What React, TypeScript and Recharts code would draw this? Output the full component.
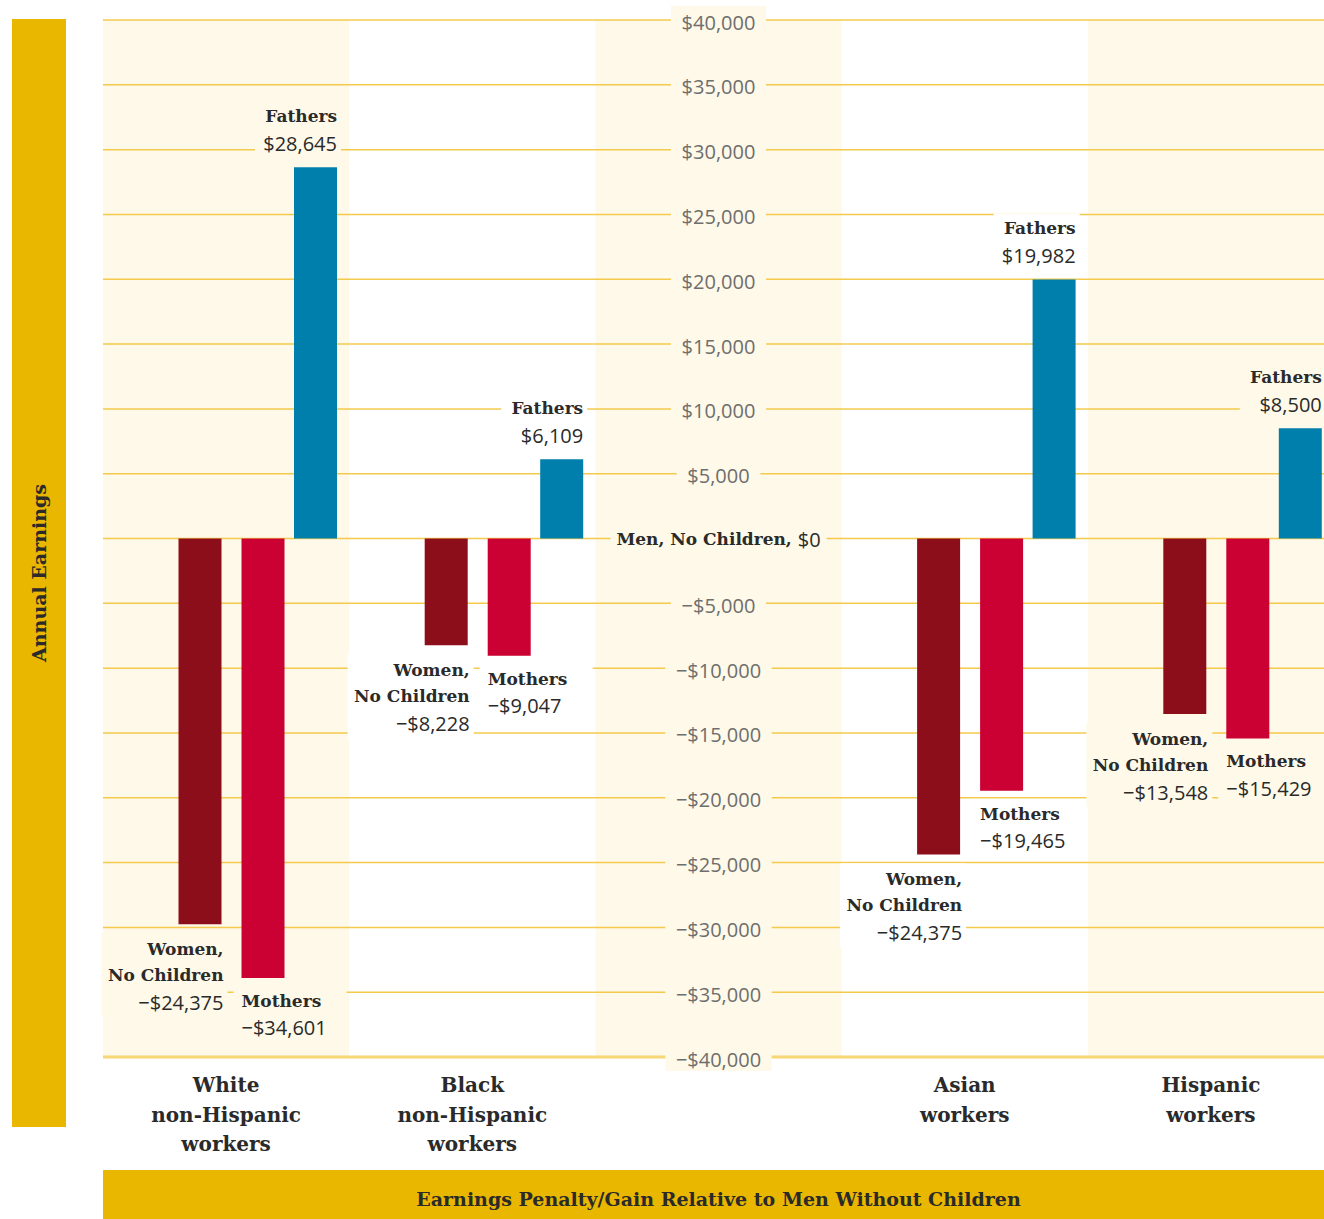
import React from 'react';
import { BarChart, Bar, XAxis, YAxis, CartesianGrid, ReferenceArea, LabelList } from 'recharts';

const categories = ['White\nnon-Hispanic\nworkers', 'Black\nnon-Hispanic\nworkers', ' ', 'Asian\nworkers', 'Hispanic\nworkers'];
const womenNoChildren = [-29750, -8228, null, -24375, -13548];
const mothers = [-33900, -9047, null, -19465, -15429];
const fathers = [28645, 6109, null, 19982, 8500];
const womenLabels = ['−$24,375', '−$8,228', '', '−$24,375', '−$13,548'];
const motherLabels = ['−$34,601', '−$9,047', '', '−$19,465', '−$15,429'];
const fatherLabels = ['$28,645', '$6,109', '', '$19,982', '$8,500'];
const yTicks = [40000, 35000, 30000, 25000, 20000, 15000, 10000, 5000, 0, -5000, -10000, -15000, -20000, -25000, -30000, -35000, -40000];
const shaded = [true, false, true, false, true];

const data = categories.map((c, i) => ({
  category: c,
  women: womenNoChildren[i],
  mothers: mothers[i],
  fathers: fathers[i],
}));

const W = 1340;
const H = 1219;
const M = { top: 20, right: 6, bottom: 12, left: 3 };
const Y_AXIS_W = 100;
const X_AXIS_H = 150;
const PLOT_LEFT = M.left + Y_AXIS_W;
const PLOT_W = W - PLOT_LEFT - M.right;
const PLOT_BOTTOM = H - M.bottom - X_AXIS_H;

const GOLD = '#e9b600';
const CREAM = '#fef9e8';
const GRID = '#f3ca4c';
const TEXT = '#2a2a2a';
const TICK = '#6e6e6e';
const SERIF = '"DejaVu Serif", serif';
const SANS = '"Open Sans", sans-serif';

const bandFill = (i: number) => (shaded[i] ? CREAM : '#ffffff');

const fmt = (v: number) => (v < 0 ? '−$' : '$') + Math.abs(v).toLocaleString('en-US');

// label index counts only drawn bars, so find the category from the value
const rowOf = (series: (number | null)[], v: any) => series.findIndex((s) => s === Number(v));

const box = (p: any) => {
  const vb = p.viewBox && p.viewBox.x != null ? p.viewBox : p;
  const x = Number(vb.x), y = Number(vb.y), w = Number(vb.width), h = Number(vb.height);
  return { left: x, right: x + w, top: Math.min(y, y + h), bottom: Math.max(y, y + h) };
};

const FatherLabel = (p: any) => {
  const i = rowOf(fathers, p.value);
  if (i < 0) return null;
  const b = box(p);
  return (
    <g>
      <rect x={b.right - 82} y={b.top - 66} width={86} height={58} fill={bandFill(i)} />
      <text x={b.right} y={b.top - 51} textAnchor="end" dominantBaseline="central" fontFamily={SERIF} fontWeight="bold" fontSize={17} fill={TEXT}>Fathers</text>
      <text x={b.right} y={b.top - 24} textAnchor="end" dominantBaseline="central" fontFamily={SANS} fontSize={20} fill={TEXT}>{fatherLabels[i]}</text>
    </g>
  );
};

const WomenLabel = (p: any) => {
  const i = rowOf(womenNoChildren, p.value);
  if (i < 0) return null;
  const b = box(p);
  const r = b.right + 2;
  return (
    <g>
      <rect x={r - 122} y={b.bottom + 9} width={126} height={84} fill={bandFill(i)} />
      <text x={r} y={b.bottom + 25} textAnchor="end" dominantBaseline="central" fontFamily={SERIF} fontWeight="bold" fontSize={17} fill={TEXT}>Women,</text>
      <text x={r} y={b.bottom + 51} textAnchor="end" dominantBaseline="central" fontFamily={SERIF} fontWeight="bold" fontSize={17} fill={TEXT}>No Children</text>
      <text x={r} y={b.bottom + 78} textAnchor="end" dominantBaseline="central" fontFamily={SANS} fontSize={20} fill={TEXT}>{womenLabels[i]}</text>
    </g>
  );
};

const MotherLabel = (p: any) => {
  const i = rowOf(mothers, p.value);
  if (i < 0) return null;
  const b = box(p);
  return (
    <g>
      <rect x={b.left - 8} y={b.bottom + 8} width={113} height={58} fill={bandFill(i)} />
      <text x={b.left} y={b.bottom + 23} textAnchor="start" dominantBaseline="central" fontFamily={SERIF} fontWeight="bold" fontSize={17} fill={TEXT}>Mothers</text>
      <text x={b.left} y={b.bottom + 50} textAnchor="start" dominantBaseline="central" fontFamily={SANS} fontSize={20} fill={TEXT}>{motherLabels[i]}</text>
    </g>
  );
};

const YTick = (p: any) => {
  const { y, payload } = p;
  const cx = PLOT_LEFT + PLOT_W / 2;
  if (payload.value === 0) {
    return (
      <g>
        <rect x={cx - 108} y={y - 15} width={216} height={30} fill={CREAM} />
        <text x={cx} y={y} textAnchor="middle" dominantBaseline="central" fill={TEXT}>
          <tspan fontFamily={SERIF} fontWeight="bold" fontSize={17}>Men, No Children, </tspan>
          <tspan fontFamily={SANS} fontSize={20}>$0</tspan>
        </text>
      </g>
    );
  }
  const label = fmt(payload.value);
  const w = label.length * 11.3 + 16;
  return (
    <g>
      <rect x={cx - w / 2} y={y - 14} width={w} height={28} fill={CREAM} />
      <text x={cx} y={y + 2} textAnchor="middle" dominantBaseline="central" fontFamily={SANS} fontSize={20} fill={TICK}>{label}</text>
    </g>
  );
};

const CategoryTick = (p: any) => {
  const { x, payload } = p;
  const lines = String(payload.value).split('\n').filter((s) => s.trim());
  return (
    <g>
      {lines.map((l, i) => (
        <text key={i} x={x} y={PLOT_BOTTOM + 28 + i * 29.5} textAnchor="middle" dominantBaseline="central" fontFamily={SERIF} fontWeight="bold" fontSize={20} fill={TEXT}>
          {l}
        </text>
      ))}
    </g>
  );
};

export default function App() {
  return (
    <div style={{ position: 'fixed', left: 0, top: 0, width: 1324, height: 1219, overflow: 'hidden', background: '#fff' }}>
      <div style={{ position: 'absolute', left: 12, top: 19, width: 54, height: 1108, background: GOLD, display: 'flex', alignItems: 'center', justifyContent: 'center' }}>
        <div style={{ transform: 'rotate(-90deg)', whiteSpace: 'nowrap', fontFamily: SERIF, fontWeight: 'bold', fontSize: 19, color: TEXT }}>Annual Earnings</div>
      </div>
      <div style={{ position: 'absolute', left: 103, top: 1170, width: 1231, height: 49, boxSizing: 'border-box', paddingTop: 9, background: GOLD, display: 'flex', alignItems: 'center', justifyContent: 'center', fontFamily: SERIF, fontWeight: 'bold', fontSize: 19, color: TEXT }}>
        Earnings Penalty/Gain Relative to Men Without Children
      </div>
      <div style={{ position: 'absolute', left: 0, top: 0 }}>
        <BarChart width={W} height={H} data={data} margin={M} barGap={9.5}>
          {categories.map((c, i) =>
            shaded[i] ? <ReferenceArea key={i} x1={c} x2={c} fill={CREAM} fillOpacity={1} stroke="none" zIndex={-200} /> : null
          )}
          <CartesianGrid vertical={false} stroke={GRID} strokeWidth={1.5} />
          <XAxis dataKey="category" height={X_AXIS_H} interval={0} tickLine={false} axisLine={{ stroke: '#f6d675', strokeWidth: 3 }} tick={<CategoryTick />} />
          <YAxis width={Y_AXIS_W} domain={[-40000, 40000]} ticks={yTicks} interval={0} axisLine={false} tickLine={false} tick={<YTick />} />
          {/* empty spacer series keep the group off-centre like the original */}
          <Bar dataKey="pad" barSize={53} fill="none" isAnimationActive={false} />
          <Bar dataKey="women" barSize={43} fill="#8d0e1b" isAnimationActive={false}>
            <LabelList dataKey="women" content={<WomenLabel />} />
          </Bar>
          <Bar dataKey="pad2" barSize={1} fill="none" isAnimationActive={false} />
          <Bar dataKey="mothers" barSize={43} fill="#cb0033" isAnimationActive={false}>
            <LabelList dataKey="mothers" content={<MotherLabel />} />
          </Bar>
          <Bar dataKey="fathers" barSize={43} fill="#007fad" isAnimationActive={false}>
            <LabelList dataKey="fathers" content={<FatherLabel />} />
          </Bar>
        </BarChart>
      </div>
    </div>
  );
}
